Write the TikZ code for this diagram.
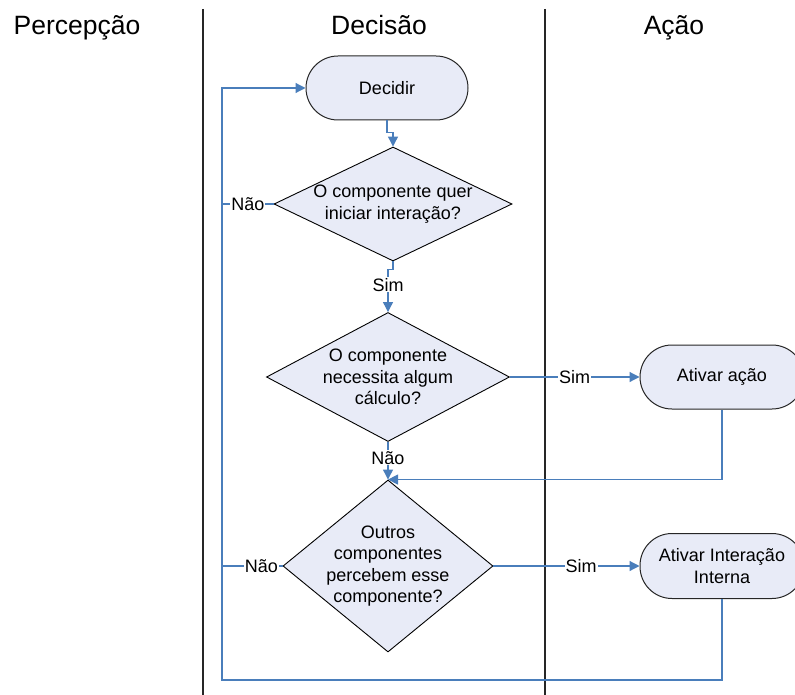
\documentclass[tikz,border=0pt]{standalone}
\usepackage{fontspec}
\setmainfont{Liberation Sans}
\usetikzlibrary{shapes.geometric,arrows.meta}
\definecolor{boxfill}{RGB}{232,235,247}
\definecolor{flowblue}{RGB}{74,126,187}

\begin{document}
\begin{tikzpicture}[x=1pt,y=-1pt,
        txt/.style={font=\fontsize{18}{21.5}\selectfont},
        header/.style={anchor=base,font=\fontsize{26.5}{30}\selectfont},
        term/.style={txt,draw=black!85,line width=1pt,fill=boxfill,rounded corners=32pt,minimum height=64pt,align=center},
        decision/.style={diamond,draw=black,line width=0.9pt,fill=boxfill,inner sep=0pt,label={[txt,align=center]center:#1}},
        lane/.style={draw=black!85,line width=1.1pt},
        flowline/.style={draw=flowblue,line width=1.2pt},
        flow/.style={flowline,-{Triangle[length=10pt,width=10pt]}},
        lbl/.style={txt,fill=white,inner sep=1pt}]
        \useasboundingbox (0,0) rectangle (795,695);

        % lanes
        \foreach \x in {203,545}{
            \draw[lane] (\x,9) -- (\x,695);
        }
        \node[header] (percepcao) at (77,35) {Percepção};
        \node[header] (decisao) at (379,35) {Decisão};
        \node[header] (acao) at (674,35) {Ação};

        % nodes
        \node[term,minimum width=162pt] (dec) at (387,88) {Decidir};
        \node[decision={O componente quer\\iniciar interação?},minimum width=238pt,minimum height=114pt] (q1) at (393,204) {};
        \node[decision={O componente\\necessita algum\\cálculo?},minimum width=243pt,minimum height=129pt] (q2) at (388,377) {};
        \node[decision={Outros\\componentes\\percebem esse\\componente?},minimum width=210pt,minimum height=172pt] (q3) at (388,566) {};
        \node[term,minimum width=164pt] (act1) at (722,377) {Ativar ação};
        \node[term,minimum width=164pt,minimum height=65pt] (act2) at (722,566) {Ativar Interação\\Interna};
        \coordinate (loopL) at (222,680);

        % connectors
        \draw[flow] (dec.south) -- ++(0,12) -| (q1.north);
        \draw[flow] (q1.south) -- ++(0,8) -| node[lbl,pos=0.68]{Sim} (q2.north);
        \draw[flow] (q2.south) -- node[lbl,pos=0.42]{Não} (q3.north);
        \draw[flow] (q2.east) -- node[lbl]{Sim} (act1.west);
        \draw[flow] (q3.east) -- node[lbl,pos=0.6]{Sim} (act2.west);
        \draw[flow] (act1.south) |- (q3.north);
        \draw[flowline] (q1.west) -- node[lbl]{Não} (q1.west -| loopL);
        \draw[flowline] (q3.west) -- node[lbl,pos=0.35]{Não} (q3.west -| loopL);
        \draw[flow] (act2.south) |- (loopL) |- (dec.west);

    \end{tikzpicture}
\end{document}
